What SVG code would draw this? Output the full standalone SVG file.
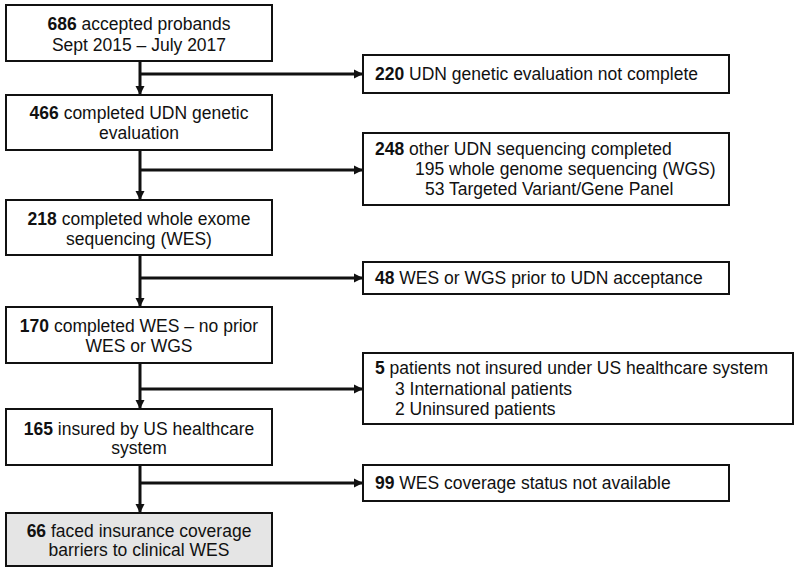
<svg xmlns="http://www.w3.org/2000/svg" width="800" height="572" viewBox="0 0 800 572">
<style>
.box{fill:#fff;stroke:#111;stroke-width:2}
.gray{fill:#e5e5e5}
.t{font-family:"Liberation Sans",Arial,sans-serif;font-size:17.5px;fill:#111}
.c{text-anchor:middle}
.b{font-weight:bold}
.ln{stroke:#111;stroke-width:3;fill:none}
</style>
<defs>
<marker id="ah" markerWidth="9" markerHeight="10" refX="8" refY="5" orient="auto" markerUnits="userSpaceOnUse">
<path d="M0,0.5 L9,5 L0,9.5 Z" fill="#111"/>
</marker>
</defs>
<rect width="800" height="572" fill="#fff"/>
<g id="connectors">
<path class="ln" d="M140,61 V94" marker-end="url(#ah)"/>
<path class="ln" d="M140,74 H362" marker-end="url(#ah)"/>
<path class="ln" d="M140,150 V199" marker-end="url(#ah)"/>
<path class="ln" d="M140,170 H362" marker-end="url(#ah)"/>
<path class="ln" d="M140,255 V306" marker-end="url(#ah)"/>
<path class="ln" d="M140,278 H362" marker-end="url(#ah)"/>
<path class="ln" d="M140,363 V408" marker-end="url(#ah)"/>
<path class="ln" d="M140,389 H362" marker-end="url(#ah)"/>
<path class="ln" d="M140,465 V512" marker-end="url(#ah)"/>
<path class="ln" d="M140,483 H362" marker-end="url(#ah)"/>
</g>
<g id="n686">
<rect class="box" x="6" y="5" width="266" height="56"/>
<text class="t c" x="139" y="30"><tspan class="b">686</tspan> accepted probands</text>
<text class="t c" x="139" y="51">Sept 2015 – July 2017</text>
</g>
<g id="n466">
<rect class="box" x="6" y="95" width="266" height="55"/>
<text class="t c" x="139" y="119"><tspan class="b">466</tspan> completed UDN genetic</text>
<text class="t c" x="139" y="139">evaluation</text>
</g>
<g id="n218">
<rect class="box" x="6" y="200" width="266" height="55"/>
<text class="t c" x="139" y="225"><tspan class="b">218</tspan> completed whole exome</text>
<text class="t c" x="139" y="245">sequencing (WES)</text>
</g>
<g id="n170">
<rect class="box" x="6" y="307" width="266" height="56"/>
<text class="t c" x="139" y="332"><tspan class="b">170</tspan> completed WES – no prior</text>
<text class="t c" x="139" y="352">WES or WGS</text>
</g>
<g id="n165">
<rect class="box" x="6" y="409" width="266" height="56"/>
<text class="t c" x="139" y="435"><tspan class="b">165</tspan> insured by US healthcare</text>
<text class="t c" x="139" y="454">system</text>
</g>
<g id="n66">
<rect class="box gray" x="6" y="513" width="266" height="53"/>
<text class="t c" x="139" y="537"><tspan class="b">66</tspan> faced insurance coverage</text>
<text class="t c" x="139" y="556">barriers to clinical WES</text>
</g>
<g id="n220">
<rect class="box" x="363" y="55" width="366" height="38"/>
<text class="t" x="375" y="80"><tspan class="b">220</tspan> UDN genetic evaluation not complete</text>
</g>
<g id="n248">
<rect class="box" x="363" y="133" width="366" height="72"/>
<text class="t" x="375" y="155"><tspan class="b">248</tspan> other UDN sequencing completed</text>
<text class="t" x="415" y="175">195 whole genome sequencing (WGS)</text>
<text class="t" x="425" y="195">53 Targeted Variant/Gene Panel</text>
</g>
<g id="n48">
<rect class="box" x="363" y="262" width="366" height="32"/>
<text class="t" x="375" y="284"><tspan class="b">48</tspan> WES or WGS prior to UDN acceptance</text>
</g>
<g id="n5">
<rect class="box" x="363" y="353" width="430" height="71"/>
<text class="t" x="375" y="374"><tspan class="b">5</tspan> patients not insured under US healthcare system</text>
<text class="t" x="395" y="395">3 International patients</text>
<text class="t" x="395" y="415">2 Uninsured patients</text>
</g>
<g id="n99">
<rect class="box" x="363" y="465" width="366" height="36"/>
<text class="t" x="375" y="489"><tspan class="b">99</tspan> WES coverage status not available</text>
</g>
</svg>
